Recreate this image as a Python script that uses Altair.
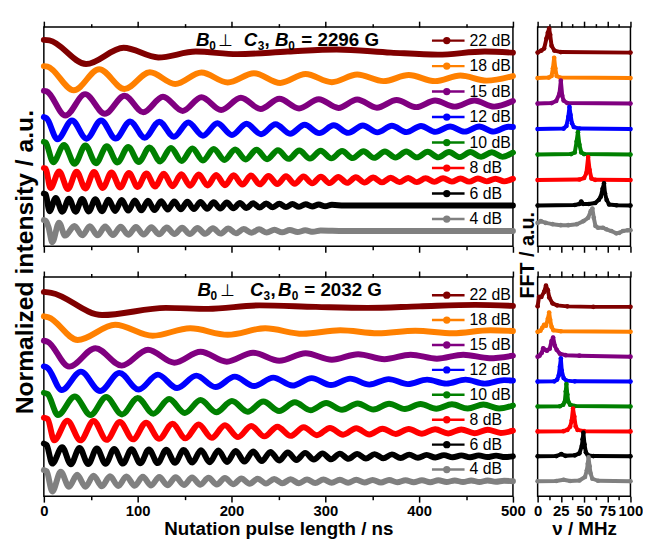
import altair as alt
import pandas as pd

# ---------------- data ----------------
LABELS = ["22 dB", "18 dB", "15 dB", "12 dB", "10 dB", "8 dB", "6 dB", "4 dB"]
COLORS = ["#800000", "#FF8000", "#800080", "#0000FF", "#008000", "#FF0000", "#000000", "#808080"]

TIME_DOMAIN = [0, 500]
FREQ_DOMAIN = [0, 100]
TIME_MAJOR = [0, 100, 200, 300, 400, 500]
TIME_MINOR = [50, 150, 250, 350, 450]
FREQ_MAJOR = [0, 25, 50, 75, 100]
FREQ_MINOR = [12.5, 37.5, 62.5, 87.5]

TITLE_TOP = ["B", "0", "⊥", "C", "3", ",", "B", "0", "= 2296 G"]
TITLE_BOTTOM = ["B", "0", "⊥", "C", "3", ",", "B", "0", "= 2032 G"]
X_TITLE_LEFT = "Nutation pulse length / ns"
X_TITLE_RIGHT = "ν / MHz"
Y_TITLE_LEFT = "Normalized intensity / a.u."
Y_TITLE_RIGHT = "FFT / a.u."

# nutation traces, B0 = 2296 G: (pulse length / ns, normalized intensity)
TOP_22DB = [(0, 0.50), (6, 0.48), (45, -0.45), (85, 0.19), (122, -0.19), (162, 0.04), (206, -0.06),
            (260, 0.04), (312, 0.12), (370, 0.0), (420, -0.08), (470, 0.04), (500, 0.0)]
TOP_18DB = [(0, 0.47), (4, 0.45), (32, -0.48), (59, 0.35), (86, -0.43), (113, 0.23), (140, -0.23),
            (168, 0.22), (196, -0.17), (224, 0.19), (252, -0.19), (279, 0.16), (307, -0.16), (334, 0.14),
            (362, -0.12), (389, 0.12), (417, -0.12), (444, 0.10), (472, -0.10), (500, 0.08)]
TOP_15DB = [(0, 0.50), (3, 0.48), (23, -0.47), (44, 0.37), (65, -0.40), (86, 0.31), (106, -0.34),
            (127, 0.27), (148, -0.29), (168, 0.25), (189, -0.25), (210, 0.23), (231, -0.21), (251, 0.19),
            (272, -0.19), (293, 0.17), (314, -0.17), (334, 0.16), (355, -0.16), (376, 0.14), (397, -0.14),
            (417, 0.12), (438, -0.12), (459, 0.12), (480, -0.12), (500, 0.10)]
TOP_12DB = [(0, 0.47), (3, 0.42), (14.5, -0.40), (30, 0.34), (45.5, -0.38), (61, 0.34), (76.5, -0.37),
            (92, 0.30), (107.5, -0.34), (123, 0.29), (138.5, -0.30), (154, 0.26), (169.5, -0.26), (185, 0.23),
            (200.5, -0.23), (216, 0.21), (231.5, -0.20), (247, 0.19), (262.5, -0.18), (278, 0.17),
            (293.5, -0.16), (309, 0.15), (324.5, -0.15), (340, 0.14), (355.5, -0.13), (371, 0.13),
            (386.5, -0.12), (402, 0.12), (417.5, -0.11), (433, 0.10), (448.5, -0.10), (464, 0.10),
            (479.5, -0.10), (495, 0.09), (500, 0.08)]
TOP_10DB = [(0, 0.50), (2, 0.47), (10, -0.30), (21.5, 0.38), (32.8, -0.36), (44.3, 0.36), (55.6, -0.34),
            (67.1, 0.33), (78.4, -0.31), (89.9, 0.30), (101.2, -0.29), (112.7, 0.28), (124, -0.27),
            (135.5, 0.26), (146.8, -0.25), (158.3, 0.24), (169.6, -0.23), (181.1, 0.22), (192.4, -0.21),
            (203.9, 0.20), (215.2, -0.19), (226.7, 0.19), (238, -0.18), (249.5, 0.17), (260.8, -0.17),
            (272.3, 0.16), (283.6, -0.16), (295.1, 0.15), (306.4, -0.15), (317.9, 0.14), (329.2, -0.14),
            (340.7, 0.13), (352, -0.13), (363.5, 0.12), (374.8, -0.12), (386.3, 0.12), (397.6, -0.11),
            (409.1, 0.11), (420.4, -0.11), (431.9, 0.10), (443.2, -0.10), (454.7, 0.10), (466, -0.09),
            (477.5, 0.09), (488.8, -0.09), (500, 0.08)]
TOP_8DB = [(0, 0.47), (2, 0.45), (7, -0.31), (16.3, 0.34), (25.6, -0.35), (34.9, 0.33), (44.2, -0.33),
           (53.5, 0.32), (62.8, -0.31), (72.1, 0.30), (81.4, -0.29), (90.7, 0.28), (100, -0.27),
           (109.3, 0.26), (118.6, -0.25), (127.9, 0.25), (137.2, -0.24), (146.5, 0.23), (155.8, -0.22),
           (165.1, 0.22), (174.4, -0.21), (183.7, 0.20), (193, -0.20), (202.3, 0.19), (211.6, -0.18),
           (220.9, 0.18), (230.2, -0.17), (239.5, 0.16), (248.8, -0.16), (258.1, 0.15), (267.4, -0.15),
           (276.7, 0.14), (286, -0.13), (295.3, 0.13), (304.6, -0.12), (313.9, 0.12), (323.2, -0.11),
           (332.5, 0.11), (341.8, -0.10), (351.1, 0.10), (360.4, -0.09), (369.7, 0.09), (379, -0.08),
           (388.3, 0.08), (397.6, -0.08), (406.9, 0.07), (416.2, -0.07), (425.5, 0.07), (434.8, -0.06),
           (444.1, 0.06), (453.4, -0.06), (462.7, 0.06), (472, -0.05), (481.3, 0.05), (490.6, -0.05),
           (500, 0.05)]
TOP_6DB = [(0, 0.47), (2, 0.44), (6, -0.22), (12.7, 0.30), (19.7, -0.24), (26.8, 0.27), (33.8, -0.24),
           (40.8, 0.26), (47.9, -0.23), (54.9, 0.25), (61.9, -0.22), (69, 0.23), (76, -0.21), (83, 0.22),
           (90, -0.20), (97, 0.20), (104, -0.19), (111, 0.19), (118, -0.18), (125, 0.17), (132, -0.16),
           (139, 0.16), (146, -0.15), (153, 0.15), (160, -0.14), (167, 0.14), (174, -0.13), (181, 0.13),
           (188, -0.12), (195, 0.12), (202, -0.11), (209, 0.10), (216, -0.10), (223, 0.09), (230, -0.08),
           (237, 0.08), (244, -0.07), (251, 0.07), (258, -0.06), (265, 0.06), (272, -0.05), (279, 0.05),
           (286, -0.04), (293, 0.04), (300, -0.03), (307, 0.03), (320, 0.0), (500, 0.0)]
TOP_4DB = [(0, 0.43), (2, 0.40), (5, 0.15), (9, -0.44), (16.2, 0.33), (22.6, -0.18), (32.6, 0.20),
           (41, -0.17), (49, 0.19), (57.2, -0.17), (65.4, 0.18), (73.6, -0.16), (81.8, 0.17), (90, -0.15),
           (98.2, 0.16), (106.4, -0.14), (114.6, 0.15), (122.8, -0.13), (131, 0.14), (139.2, -0.12),
           (147.4, 0.13), (155.6, -0.12), (163.8, 0.12), (172, -0.11), (180.2, 0.11), (188.4, -0.10),
           (196.6, 0.10), (204.8, -0.09), (213, 0.08), (221.2, -0.07), (229.4, 0.07), (237.6, -0.06),
           (245.8, 0.05), (254, -0.05), (262.2, 0.04), (270.4, -0.04), (278.6, 0.03), (286.8, -0.03),
           (295, 0.02), (320, 0.0), (500, 0.0)]

# nutation traces, B0 = 2032 G
BOT_22DB = [(0, 0.60), (8, 0.56), (62, -0.33), (130, -0.04), (175, -0.08), (230, 0.06), (290, 0.0),
            (345, -0.04), (400, 0.02), (460, 0.08), (500, 0.04)]
BOT_18DB = [(0, 0.62), (5, 0.58), (36, -0.33), (76, 0.28), (116, -0.16), (156, 0.14), (196, -0.12),
            (236, 0.14), (276, -0.08), (316, 0.06), (356, -0.06), (396, 0.04), (436, -0.06), (476, 0.06),
            (500, 0.03)]
BOT_15DB = [(0, 0.64), (4, 0.60), (27, -0.40), (55, 0.34), (83, -0.36), (111, 0.28), (139, -0.24),
            (167, 0.20), (195, -0.20), (223, 0.16), (251, -0.16), (279, 0.14), (307, -0.12), (335, 0.10),
            (363, -0.10), (391, 0.08), (419, -0.08), (447, 0.08), (475, -0.06), (500, 0.04)]
BOT_12DB = [(0, 0.61), (4, 0.55), (19, -0.34), (39.5, 0.40), (60, -0.38), (80.5, 0.35), (101, -0.32),
            (121.5, 0.28), (142, -0.26), (162.5, 0.24), (183, -0.22), (203.5, 0.20), (224, -0.18),
            (244.5, 0.16), (265, -0.16), (285.5, 0.14), (306, -0.14), (326.5, 0.12), (347, -0.12),
            (367.5, 0.10), (388, -0.10), (408.5, 0.08), (429, -0.08), (449.5, 0.08), (470, -0.08),
            (490.5, 0.06), (500, 0.04)]
BOT_10DB = [(0, 0.55), (4, 0.50), (15, -0.34), (33, 0.40), (49.8, -0.34), (66.5, 0.38), (83.3, -0.32),
            (100, 0.34), (116.8, -0.29), (133.5, 0.30), (150.3, -0.26), (167, 0.26), (183.8, -0.23),
            (200.5, 0.22), (217.3, -0.21), (234, 0.20), (250.8, -0.18), (267.5, 0.17), (284.3, -0.15),
            (301, 0.14), (317.8, -0.13), (334.5, 0.12), (351.3, -0.12), (368, 0.11), (384.8, -0.10),
            (401.5, 0.10), (418.3, -0.09), (435, 0.09), (451.8, -0.08), (468.5, 0.08), (485.3, -0.08),
            (500, 0.04)]
BOT_8DB = [(0, 0.55), (4, 0.50), (11, -0.36), (25, 0.43), (39, -0.36), (53, 0.42), (67, -0.34), (81, 0.38),
           (95, -0.32), (109, 0.35), (123, -0.30), (137, 0.31), (151, -0.28), (165, 0.28), (179, -0.26),
           (193, 0.25), (207, -0.23), (221, 0.22), (235, -0.20), (249, 0.19), (263, -0.18), (277, 0.17),
           (291, -0.15), (305, 0.14), (319, -0.13), (333, 0.13), (347, -0.12), (361, 0.11), (375, -0.10),
           (389, 0.10), (403, -0.09), (417, 0.09), (431, -0.08), (445, 0.08), (459, -0.07), (473, 0.07),
           (487, -0.06), (500, 0.03)]
BOT_6DB = [(0, 0.51), (3, 0.45), (9, -0.29), (19.5, 0.37), (28.8, -0.32), (38, 0.34), (47.3, -0.31),
           (56.5, 0.32), (65.8, -0.30), (75, 0.30), (84.3, -0.29), (93.5, 0.29), (102.8, -0.28), (112, 0.28),
           (121.3, -0.27), (130.5, 0.27), (139.8, -0.26), (149, 0.26), (158.3, -0.25), (167.5, 0.25),
           (176.8, -0.24), (186, 0.24), (195.3, -0.23), (204.5, 0.22), (213.8, -0.21), (223, 0.20),
           (232.3, -0.19), (241.5, 0.18), (250.8, -0.17), (260, 0.16), (269.3, -0.15), (278.5, 0.14),
           (287.8, -0.13), (297, 0.12), (306.3, -0.12), (315.5, 0.11), (324.8, -0.10), (334, 0.10),
           (343.3, -0.09), (352.5, 0.09), (361.8, -0.08), (371, 0.08), (380.3, -0.07), (389.5, 0.07),
           (398.8, -0.06), (408, 0.06), (417.3, -0.05), (426.5, 0.05), (435.8, -0.04), (445, 0.04),
           (454.3, -0.04), (463.5, 0.04), (472.8, -0.03), (482, 0.03), (491.3, -0.03), (500, 0.0)]
BOT_4DB = [(0, 0.45), (3, 0.40), (9, -0.41), (18, 0.38), (26.8, -0.22), (35.5, 0.26), (44.3, -0.22),
           (53, 0.22), (61.8, -0.20), (70.5, 0.20), (79.3, -0.19), (88, 0.19), (96.8, -0.18), (105.5, 0.18),
           (114.3, -0.17), (123, 0.17), (131.8, -0.16), (140.5, 0.16), (149.3, -0.15), (158, 0.15),
           (166.8, -0.14), (175.5, 0.14), (184.3, -0.13), (193, 0.13), (201.8, -0.12), (210.5, 0.11),
           (219.3, -0.10), (228, 0.10), (236.8, -0.09), (245.5, 0.09), (254.3, -0.08), (263, 0.08),
           (271.8, -0.08), (280.5, 0.07), (289.3, -0.07), (298, 0.07), (306.8, -0.06), (315.5, 0.06),
           (324.3, -0.06), (333, 0.06), (341.8, -0.05), (350.5, 0.05), (359.3, -0.05), (368, 0.05),
           (376.8, -0.04), (385.5, 0.04), (394.3, -0.04), (403, 0.04), (411.8, -0.04), (420.5, 0.04),
           (429.3, -0.03), (438, 0.03), (446.8, -0.03), (455.5, 0.03), (464.3, -0.03), (473, 0.03),
           (481.8, -0.02), (490.5, 0.02), (500, 0.0)]

# FFT spectra, B0 = 2296 G: (frequency / MHz, normalized FFT amplitude)
FFT_TOP_22DB = [(0, 0), (4, 0.08), (7, 0.16), (9.5, 0.55), (11, 0.78), (12.4, 0.94), (13.5, 0.70), (15, 0.27),
                (18, 0.08), (25, 0.02), (100, 0)]
FFT_TOP_18DB = [(0, 0), (12, 0.02), (15, 0.08), (16.5, 0.39), (17.8, 0.80), (19, 0.39), (20.5, 0.08),
                (24, 0.02), (100, 0)]
FFT_TOP_15DB = [(0, 0), (15, 0.02), (20, 0.10), (23.5, 0.39), (25, 0.90), (26.5, 0.31), (28, 0.12),
                (32, 0.02), (100, 0)]
FFT_TOP_12DB = [(0, 0), (28, 0.02), (31, 0.12), (33, 0.47), (34.3, 0.87), (35.5, 0.55), (37, 0.23),
                (39, 0.08), (45, 0.02), (100, 0)]
FFT_TOP_10DB = [(0, 0), (36, 0.02), (40, 0.08), (42, 0.51), (43.4, 0.88), (45, 0.39), (47, 0.08),
                (50, 0.02), (100, 0)]
FFT_TOP_8DB = [(0, 0), (45, 0.02), (50, 0.08), (52.5, 0.27), (54.4, 0.90), (56, 0.39), (58, 0.06),
               (62, 0.01), (100, 0)]
FFT_TOP_6DB = [(0, 0), (40, 0.02), (45, 0.06), (47, 0.16), (49, 0.06), (55, 0.06), (62, 0.10), (66, 0.23),
               (68, 0.35), (70, 0.66), (71.5, 0.87), (72.6, 0.47), (74.4, 0.22), (77, 0.04), (85, 0.01),
               (100, 0)]
FFT_TOP_4DB = [(0, 0.32), (3.4, 0.39), (8.8, 0.32), (16, 0.27), (24.9, 0.23), (33, 0.23), (42.3, 0.27),
               (49.4, 0.39), (54.4, 0.52), (57.2, 0.78), (59, 0.88), (60.5, 0.52), (62.3, 0.20), (65, 0.13),
               (70.4, 0.13), (74, 0.07), (79.4, 0.0), (84.8, -0.09), (88, -0.07), (91.9, 0.0), (97.2, 0.03),
               (100, 0.03)]

# FFT spectra, B0 = 2032 G
FFT_BOT_22DB = [(0, 0.02), (1.5, 0.40), (4, 0.40), (7, 0.60), (9, 0.85), (11, 0.67), (12.5, 0.38),
                (16, 0.14), (21, 0.06), (32, 0.02), (60, 0), (100, 0)]
FFT_BOT_18DB = [(0, 0), (3, 0.04), (5, 0.16), (7, 0.28), (9, 0.24), (11, 0.52), (12.4, 0.77), (13.5, 0.48),
                (15, 0.20), (17, 0.06), (25, 0.02), (100, 0)]
FFT_BOT_15DB = [(0, 0), (2, 0.04), (4.5, 0.16), (6, 0.34), (8, 0.28), (10, 0.24), (13, 0.32), (15, 0.63),
                (16.7, 0.77), (18.5, 0.44), (20.5, 0.28), (24, 0.12), (30, 0.06), (45, 0.04), (100, 0)]
FFT_BOT_12DB = [(0, 0), (18, 0.01), (21, 0.08), (22.7, 0.24), (24, 0.60), (25, 0.93), (26, 0.44),
                (28, 0.14), (31, 0.04), (40, 0.01), (100, 0)]
FFT_BOT_10DB = [(0, 0), (24, 0.01), (27.5, 0.07), (29.3, 0.20), (30.3, 0.60), (31, 0.90), (32, 0.48),
                (33, 0.20), (35, 0.07), (40, 0.02), (100, 0)]
FFT_BOT_8DB = [(0, 0), (28, 0.01), (32, 0.06), (35, 0.19), (36.7, 0.44), (38.1, 0.92), (39.5, 0.60),
               (41, 0.20), (43, 0.06), (50, 0.01), (100, 0)]
FFT_BOT_6DB = [(0, 0), (20, 0.01), (25.5, 0.09), (30, 0.02), (40, 0.04), (45, 0.12), (47.6, 0.42),
               (48.5, 0.69), (49.3, 0.95), (50.5, 0.48), (52, 0.16), (54, 0.05), (60, 0.01), (100, 0)]
FFT_BOT_4DB = [(0, 0), (20, 0.01), (28, 0.06), (35, 0.01), (45, 0.03), (51, 0.17), (53, 0.44), (54, 0.70),
               (54.8, 0.96), (56, 0.60), (57, 0.32), (59, 0.10), (65, 0.02), (100, 0)]

TOP_TRACES = [TOP_22DB, TOP_18DB, TOP_15DB, TOP_12DB, TOP_10DB, TOP_8DB, TOP_6DB, TOP_4DB]
BOT_TRACES = [BOT_22DB, BOT_18DB, BOT_15DB, BOT_12DB, BOT_10DB, BOT_8DB, BOT_6DB, BOT_4DB]
FFT_TOP = [FFT_TOP_22DB, FFT_TOP_18DB, FFT_TOP_15DB, FFT_TOP_12DB, FFT_TOP_10DB, FFT_TOP_8DB, FFT_TOP_6DB, FFT_TOP_4DB]
FFT_BOT = [FFT_BOT_22DB, FFT_BOT_18DB, FFT_BOT_15DB, FFT_BOT_12DB, FFT_BOT_10DB, FFT_BOT_8DB, FFT_BOT_6DB, FFT_BOT_4DB]

# ---------------- layout / style ----------------
FONT = "Liberation Sans"
BASE = 0.6            # vertical offset of the lowest trace
LEGEND_DY = 0.47      # legend row above each trace baseline
TOP_YDOMAIN = [0, 8.6]
BOT_YDOMAIN = [0, 8.8]
LEFT_W, RIGHT_W, PANEL_H = 475, 94, 222
SVG_W, SVG_H = 643, 532          # visible drawing size inside the page margin
ORIGIN_X, ORIGIN_Y = 36.3, 16    # top-left corner of the first panel inside the drawing

TITLE_STYLE = [  # (fontStyle, fontSize, dy, family, weight)
    ("italic", 19, 0, FONT, "bold"), ("normal", 12, 4, FONT, "bold"), ("normal", 17, 0, "DejaVu Sans", "normal"),
    ("italic", 19, 0, FONT, "bold"), ("normal", 12, 4, FONT, "bold"), ("normal", 19, 0, FONT, "bold"),
    ("italic", 19, 0, FONT, "bold"), ("normal", 12, 4, FONT, "bold"), ("normal", 19, 0, FONT, "bold"),
]
TITLE_X_TOP = [154, 167.4, 176.7, 202.4, 216.5, 223.5, 234, 247.4, 260.7]
TITLE_X_BOT = [155.7, 168.7, 178.7, 208.7, 222.5, 229.5, 237, 251, 263.7]


def stack(traces):
    rows = []
    n = len(LABELS)
    for i, (lab, pts) in enumerate(zip(LABELS, traces)):
        off = BASE + (n - 1 - i)
        for x, v in pts:
            rows.append({"x": x, "y": off + v, "label": lab})
    return pd.DataFrame(rows)


def x_axis(orient, values, size, labels=False, title=None):
    kw = dict(orient=orient, values=values, tickSize=size, tickWidth=1.5, tickColor="black",
              domain=False, grid=False, labels=labels, ticks=True)
    if labels:
        kw.update(labelFont=FONT, labelFontSize=15, labelFontWeight="bold", labelColor="black",
                  labelPadding=2, labelFlush=False, labelOverlap=False)
    if title:
        kw.update(title=title, titleFont=FONT, titleFontSize=19, titleFontWeight="bold",
                  titleColor="black", titleY=39, titleBaseline="alphabetic")
    else:
        kw["title"] = None
    return alt.Axis(**kw)


Y_AXIS = alt.Axis(domain=True, domainColor="black", domainWidth=1.5, ticks=False, labels=False,
                  grid=False, title=None)

COLOR = alt.Color("label:N", scale=alt.Scale(domain=LABELS, range=COLORS), legend=None)


def legend_layers(ys):
    n = len(LABELS)
    leg = pd.DataFrame({"label": LABELS, "y": [BASE + (n - 1 - i) + LEGEND_DY for i in range(n)]})
    c = alt.Chart(leg)
    y = alt.Y("y:Q", scale=ys, axis=None)
    return [
        c.mark_rule(strokeWidth=2.5).encode(x=alt.value(393), x2=alt.value(426), y=y, color=COLOR),
        c.mark_point(filled=True, size=55, opacity=1).encode(x=alt.value(408), y=y, color=COLOR),
        c.mark_text(align="left", baseline="middle", font=FONT, fontSize=16, color="black").encode(
            x=alt.value(431), y=y, text="label:N"),
    ]


def title_layers(texts, xpos):
    out = []
    for txt, xp, (style, size, dy, fam, wt) in zip(texts, xpos, TITLE_STYLE):
        out.append(alt.Chart(pd.DataFrame({"s": [txt]})).mark_text(
            align="left", baseline="alphabetic", font=fam, fontSize=size, fontStyle=style,
            fontWeight=wt, color="black").encode(x=alt.value(xp), y=alt.value(19 + dy), text="s:N"))
    return out


def vertical_title(txt, xp, yp, size):
    return alt.Chart(pd.DataFrame({"s": [txt]})).mark_text(
        angle=270, align="center", baseline="alphabetic", font=FONT, fontSize=size,
        fontWeight="bold", color="black").encode(x=alt.value(xp), y=alt.value(yp), text="s:N")


def panel(df, xdomain, ydomain, major, minor, width, labels, xtitle, fft, extra_fn):
    xs = alt.Scale(domain=xdomain, nice=False, zero=False)
    ys = alt.Scale(domain=ydomain, nice=False, zero=False)
    base = alt.Chart(df)
    if fft:
        line = base.mark_line(strokeWidth=4, strokeJoin="round", strokeCap="round")
    else:
        line = base.mark_line(interpolate="monotone", strokeWidth=6, strokeJoin="round", strokeCap="round")
    layers = [line.encode(
        x=alt.X("x:Q", scale=xs, axis=x_axis("bottom", major, 6, labels, xtitle)),
        y=alt.Y("y:Q", scale=ys, axis=Y_AXIS),
        color=COLOR)]
    if fft:
        layers.append(base.mark_point(filled=True, size=22, opacity=1).encode(
            x=alt.X("x:Q", scale=xs, axis=None), y=alt.Y("y:Q", scale=ys, axis=None), color=COLOR))
    ax = alt.Chart(pd.DataFrame({"x": xdomain, "y": ydomain}))
    for orient, vals, size in [("bottom", minor, 3.5), ("top", major, 6), ("top", minor, 3.5)]:
        layers.append(ax.mark_point(opacity=0).encode(
            x=alt.X("x:Q", scale=xs, axis=x_axis(orient, vals, size)),
            y=alt.Y("y:Q", scale=ys, axis=None)))
    layers += extra_fn(ys)
    return alt.layer(*layers).resolve_axis(x="independent").properties(width=width, height=PANEL_H)


TL = panel(stack(TOP_TRACES), TIME_DOMAIN, TOP_YDOMAIN, TIME_MAJOR, TIME_MINOR, LEFT_W, False, None, False,
           lambda ys: legend_layers(ys) + title_layers(TITLE_TOP, TITLE_X_TOP)
           + [vertical_title(Y_TITLE_LEFT, -11, 238, 25)])
BL = panel(stack(BOT_TRACES), TIME_DOMAIN, BOT_YDOMAIN, TIME_MAJOR, TIME_MINOR, LEFT_W, True, X_TITLE_LEFT, False,
           lambda ys: legend_layers(ys) + title_layers(TITLE_BOTTOM, TITLE_X_BOT))
TR = panel(stack(FFT_TOP), FREQ_DOMAIN, TOP_YDOMAIN, FREQ_MAJOR, FREQ_MINOR, RIGHT_W, False, None, True,
           lambda ys: [vertical_title(Y_TITLE_RIGHT, -4, 231, 20)])
BR = panel(stack(FFT_BOT), FREQ_DOMAIN, BOT_YDOMAIN, FREQ_MAJOR, FREQ_MINOR, RIGHT_W, True, X_TITLE_RIGHT, True,
           lambda ys: [])

chart = alt.concat(TL, TR, BL, BR, columns=2, spacing={"row": 31, "column": 25}, bounds="flush").properties(
    autosize=alt.AutoSizeParams(type="none"),
    padding={"left": ORIGIN_X, "top": ORIGIN_Y, "right": SVG_W - ORIGIN_X, "bottom": SVG_H - ORIGIN_Y},
    background="white",
).configure_view(stroke="black", strokeWidth=1.5)

chart.save("out.html", embed_options={"renderer": "svg", "actions": False})
